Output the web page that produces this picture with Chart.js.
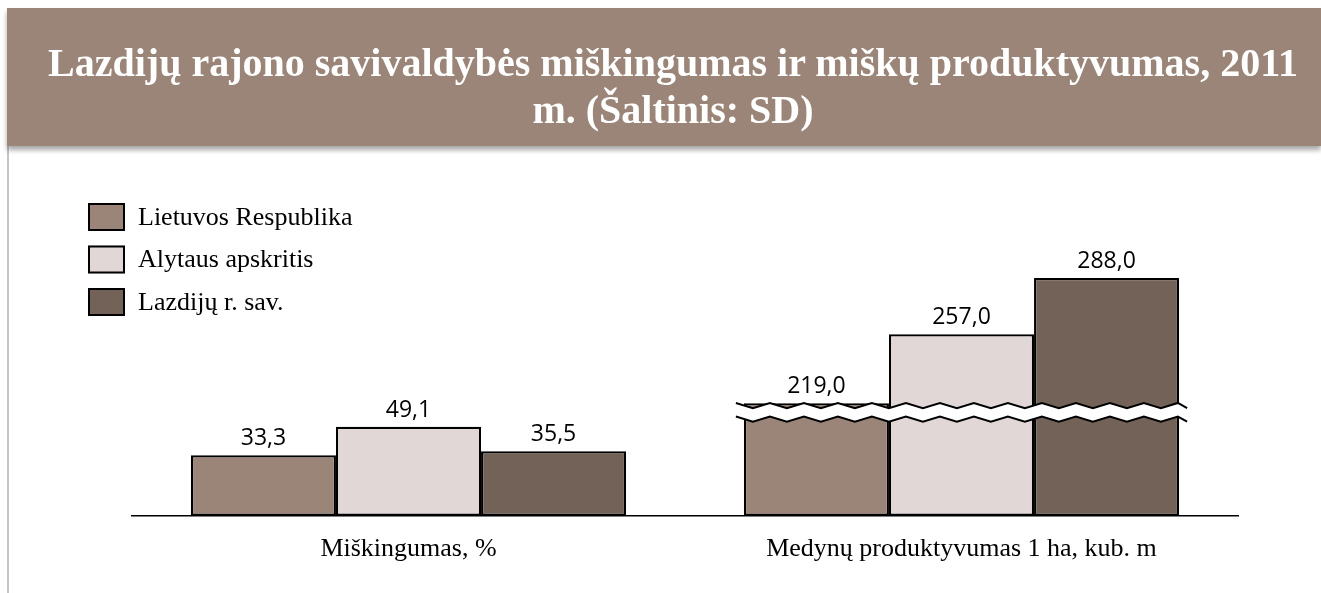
<!DOCTYPE html>
<html>
<head>
<meta charset="utf-8">
<script src="https://cdn.jsdelivr.net/npm/chart.js@4.4.1/dist/chart.umd.min.js"></script>
<style>
  body { margin: 0; width: 1321px; height: 593px; overflow: hidden; background: #fff; }
  #banner {
    position: absolute; left: 7px; top: 8px; width: 1314px; height: 138px;
    background: #9b8578; box-shadow: 0 4px 5px rgba(0,0,0,0.35);
    color: #fff; font-family: "Liberation Serif", serif; font-weight: bold; font-size: 40px;
    text-align: center; line-height: 47px; box-sizing: border-box; padding-top: 31px; padding-left: 18px;
    white-space: nowrap; z-index: 2;
  }
  #leftline { position: absolute; left: 7px; top: 146px; width: 2px; height: 447px; background: #c4c4c4; }
  #wrap { position: absolute; left: 0; top: 150px; width: 1321px; height: 443px; }
</style>
</head>
<body>
<div id="banner">Lazdijų rajono savivaldybės miškingumas ir miškų produktyvumas, 2011<br>m. (Šaltinis: SD)</div>
<div id="leftline"></div>
<div id="wrap"><canvas id="gr"></canvas></div>
<script>
// duomenys
const kategorijos = ["Miškingumas, %", "Medynų produktyvumas 1 ha, kub. m"];
const serijos = ["Lietuvos Respublika", "Alytaus apskritis", "Lazdijų r. sav."];
const lietuvos = [33.3, 219.0];
const alytaus = [49.1, 257.0];
const lazdiju = [35.5, 288.0];
// asies nutrukimas: kiek nukerpama kiekvienoje kategorijoje
const nukirpta = [0, 157];
const nutrukimoVieta = 57;

const spalvos = ["#9b8578", "#e0d7d6", "#736257"];
const reiksmes = [lietuvos, alytaus, lazdiju];

function fmt(v) { return v.toFixed(1).replace(".", ","); }

// reiksmiu uzrasai, nutrukimo zenklas, legenda
const uzrasai = {
  id: "uzrasai",
  afterDatasetsDraw(chart) {
    const ctx = chart.ctx;
    const y = chart.scales.y;
    // nutrukimas
    const m0 = chart.getDatasetMeta(0).data[1];
    const m2 = chart.getDatasetMeta(2).data[1];
    const x1 = m0.x - m0.width / 2 - 8, x2 = m2.x + m2.width / 2 + 8;
    const yc = y.getPixelForValue(nutrukimoVieta);
    const per = 34, amp = 2.6;
    const zig = (off) => {
      const pts = [];
      const n = Math.ceil((x2 - x1) / (per / 2));
      for (let k = 0; k <= n; k++) {
        pts.push([Math.min(x1 + k * per / 2, x2), yc + off + (k % 2 ? amp : -amp)]);
      }
      return pts;
    };
    const top = zig(-6.8), bot = zig(6.8);
    ctx.save();
    ctx.beginPath();
    top.forEach((p, i) => i ? ctx.lineTo(p[0], p[1]) : ctx.moveTo(p[0], p[1]));
    for (let i = bot.length - 1; i >= 0; i--) ctx.lineTo(bot[i][0], bot[i][1]);
    ctx.closePath();
    ctx.fillStyle = "#fff";
    ctx.fill();
    ctx.strokeStyle = "#000";
    ctx.lineWidth = 2;
    ctx.lineJoin = "miter";
    [top, bot].forEach(l => {
      ctx.beginPath();
      l.forEach((p, i) => i ? ctx.lineTo(p[0], p[1]) : ctx.moveTo(p[0], p[1]));
      ctx.stroke();
    });
    // reiksmes
    ctx.fillStyle = "#000";
    ctx.font = "23px 'Open Sans'";
    ctx.textAlign = "center";
    ctx.textBaseline = "bottom";
    reiksmes.forEach((arr, i) => {
      chart.getDatasetMeta(i).data.forEach((b, j) => {
        ctx.fillText(fmt(arr[j]), b.x, b.y - 5);
      });
    });
    // legenda
    ctx.font = "26px 'Liberation Serif'";
    ctx.textAlign = "left";
    ctx.textBaseline = "middle";
    serijos.forEach((s, i) => {
      const by = 53 + i * 42.5;
      ctx.fillStyle = spalvos[i];
      ctx.fillRect(88, by, 37, 28);
      ctx.lineWidth = 2;
      ctx.strokeStyle = "#000";
      ctx.strokeRect(89, by + 1, 35, 26);
      ctx.fillStyle = "#000";
      ctx.fillText(s, 138, by + 15);
    });
    ctx.restore();
  }
};

new Chart(document.getElementById("gr"), {
  type: "bar",
  data: {
    labels: kategorijos,
    datasets: serijos.map((s, i) => ({
      label: s,
      data: reiksmes[i].map((v, j) => v - nukirpta[j]),
      backgroundColor: spalvos[i],
      borderColor: "#000",
      borderWidth: 2.2,
      borderSkipped: false,
      barPercentage: 1,
      categoryPercentage: 0.787
    }))
  },
  options: {
    responsive: true,
    maintainAspectRatio: false,
    animation: false,
    layout: { padding: { top: 30, left: 132, right: 83, bottom: 18 } },
    plugins: { legend: { display: false }, tooltip: { enabled: false } },
    scales: {
      y: { display: false, min: 0, max: 185 },
      x: {
        grid: { display: false },
        border: { color: "#000", width: 1.5 },
        ticks: { color: "#000", font: { family: "Liberation Serif", size: 26 }, padding: 10 }
      }
    }
  },
  plugins: [uzrasai]
});
</script>
</body>
</html>
